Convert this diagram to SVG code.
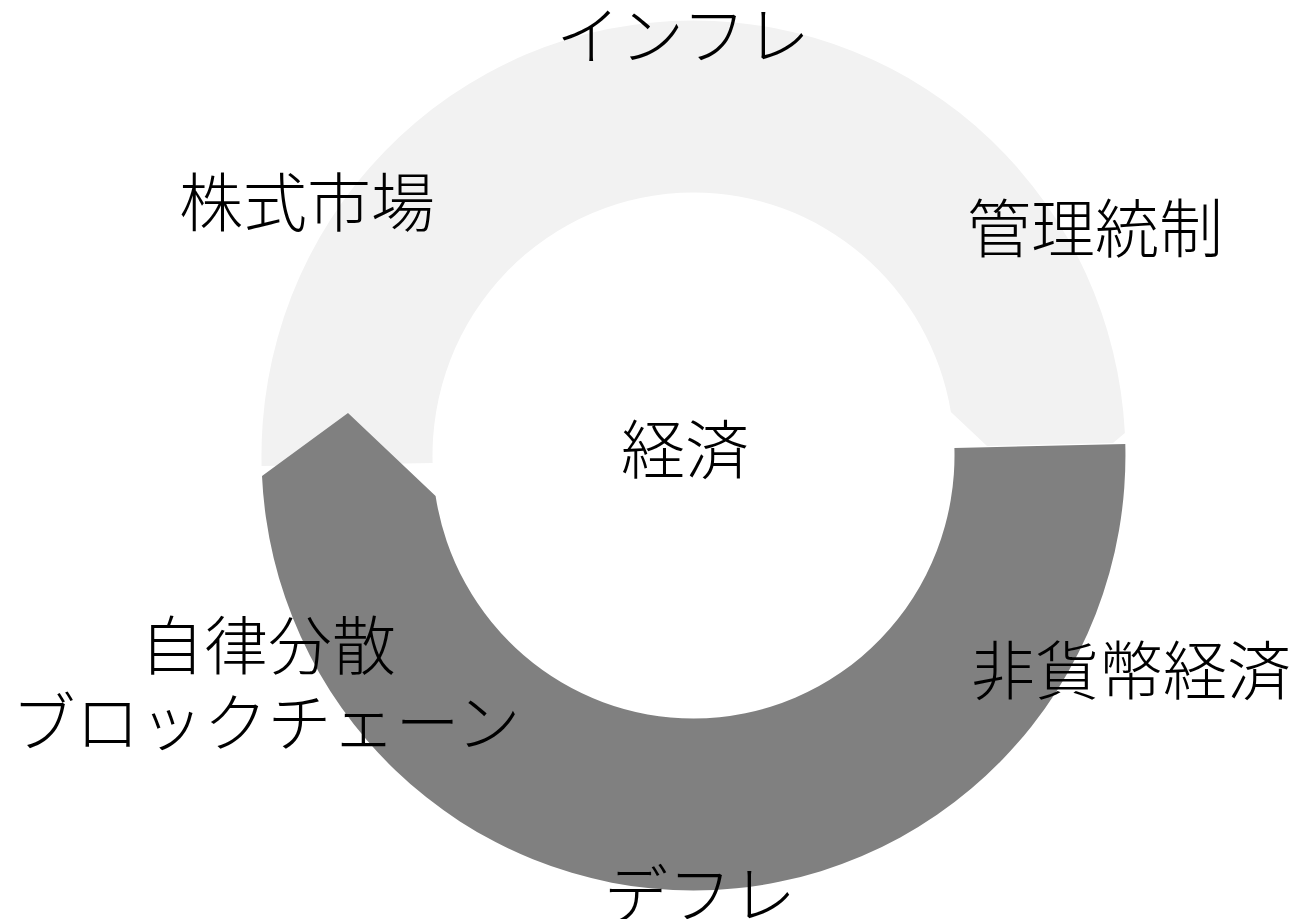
<svg xmlns="http://www.w3.org/2000/svg" width="1297" height="919" viewBox="0 0 1297 919">
<style>
.lbl{font-family:"Noto Sans CJK JP","Noto Sans CJK SC",sans-serif;font-size:64px;font-weight:300;fill:#000;text-anchor:middle}
.light{fill:#F2F2F2}
.dark{fill:#808080}
</style>
<rect width="1297" height="919" fill="#FFFFFF"/>
<g id="connectors">
<path id="arc-inflation" class="light" d="M 261.6 466 A 432 435 0 0 1 693.5 20.5 A 432 435 0 0 1 1124.9 433 L 1113 443 L 987 446 L 950.9 412 A 261 263 0 0 0 693.5 192.5 A 261 263 0 0 0 432.6 463 Z"/>
<path id="arc-deflation" class="dark" d="M 954.4 448 L 1125.3 444 A 432 435 0 0 1 693.5 890.5 A 432 435 0 0 1 262 476 L 348 413 L 435.6 496 A 261 263 0 0 0 693.5 718.5 A 261 263 0 0 0 954.4 448 Z"/>
</g>
<g id="node-inflation"><text class="lbl" x="683" y="59">インフレ</text></g>
<g id="node-stock"><text class="lbl" x="307" y="226">株式市場</text></g>
<g id="node-control"><text class="lbl" x="1095" y="252">管理統制</text></g>
<g id="node-economy"><text class="lbl" x="685" y="473">経済</text></g>
<g id="node-nonmonetary"><text class="lbl" x="1131" y="694">非貨幣経済</text></g>
<g id="node-autonomous"><text class="lbl" x="268" y="669">自律分散</text><text class="lbl" x="266" y="746">ブロックチェーン</text></g>
<g id="node-deflation"><text class="lbl" x="700" y="918">デフレ</text></g>
</svg>
